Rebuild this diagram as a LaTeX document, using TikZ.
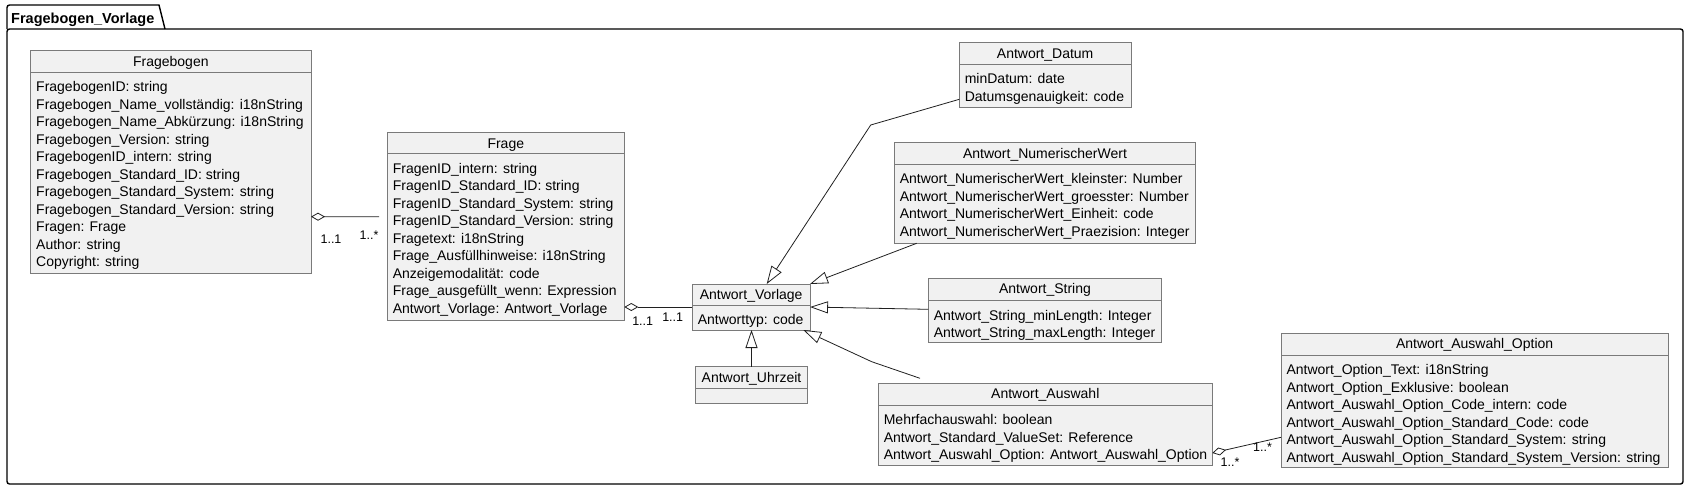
\documentclass[tikz,border=0pt]{standalone}
\usepackage{fontspec}
\setmainfont{Liberation Sans}
\usetikzlibrary{arrows.meta}
\definecolor{boxfill}{HTML}{F1F1F1}
\definecolor{boxgray}{HTML}{7A7A7A}
\definecolor{linecol}{HTML}{202020}
\tikzset{
  classbox/.style={draw=boxgray, fill=boxfill, line width=0.7pt, inner sep=0pt, outer sep=0pt},
  sepline/.style={draw=boxgray, line width=0.7pt},
  ctitle/.style={font=\fontsize{14}{16}\selectfont, inner sep=0pt, anchor=base},
  cattr/.style={font=\fontsize{14}{16}\selectfont, inner sep=0pt, anchor=base west},
  conn/.style={draw=linecol, line width=0.8pt},
  ext/.style={conn, -{Triangle[open, length=18pt, width=12pt]}},
  aggr/.style={conn, {Diamond[open, length=14pt, width=8pt]}-},
  mult/.style={font=\fontsize{12.5}{14}\selectfont, inner sep=0pt},
  pkgframe/.style={draw=black, line width=1.4pt, rounded corners=2.5pt, inner sep=0pt, outer sep=0pt},
  pkgline/.style={draw=black, line width=1.4pt},
  pkgtitle/.style={font=\fontsize{14.5}{16}\selectfont\bfseries, inner sep=0pt, anchor=base west},
}
% #1 name, #2 left, #3 top, #4 right, #5 separator, #6 bottom, #7 title
\newcommand\umlbox[7]{%
  \node[classbox, anchor=north west, minimum width={#4pt-#2pt}, minimum height={#6pt-#3pt}] (#1) at (#2,#3) {};
  \draw[sepline] (#2,#5) -- (#4,#5);
  \node[ctitle] (#1-t) at ({(#2+#4)/2},{#3+15.5}) {#7};
}
% #1 name, #2 left, #3 separator, #4 list
\newcommand\umlattrs[4]{%
  \foreach \a [count=\i] in {#4} {
    \node[cattr] (#1-a\i) at ({#2+5.3},{#3+19.7+(\i-1)*17.5}) {\a};
  }
}
\begin{document}
\begin{tikzpicture}[x=1pt, y=-1pt]
\useasboundingbox (0,0) rectangle (1690,491);

% package
\node[pkgframe, anchor=north west, minimum width=1676pt, minimum height=455pt] (pkg) at (7,29) {};
\draw[pkgline] (pkg.north west) [rounded corners=2.5pt] -- (7,5) [sharp corners] -- (159,5) -- (165,29);
\node[pkgtitle] (pkgt) at (11,23.5) {Fragebogen\_Vorlage};

% classes
\umlbox{fb}{30.7}{50.7}{311}{72}{273}{Fragebogen}
\umlattrs{fb}{30.7}{72}{FragebogenID: string,
 Fragebogen\_Name\_vollständig: i18nString,
 Fragebogen\_Name\_Abkürzung: i18nString,
 Fragebogen\_Version: string,
 FragebogenID\_intern: string,
 Fragebogen\_Standard\_ID: string,
 Fragebogen\_Standard\_System: string,
 Fragebogen\_Standard\_Version: string,
 Fragen: Frage,
 Author: string,
 Copyright: string}

\umlbox{fr}{387.3}{132.7}{624.3}{153.3}{320}{Frage}
\umlattrs{fr}{387.3}{153.3}{FragenID\_intern: string,
 FragenID\_Standard\_ID: string,
 FragenID\_Standard\_System: string,
 FragenID\_Standard\_Version: string,
 Fragetext: i18nString,
 Frage\_Ausfüllhinweise: i18nString,
 Anzeigemodalität: code,
 Frage\_ausgefüllt\_wenn: Expression,
 Antwort\_Vorlage: Antwort\_Vorlage}

\umlbox{av}{692.3}{284}{810}{305}{330}{Antwort\_Vorlage}
\umlattrs{av}{692.3}{305}{Antworttyp: code}

\umlbox{au}{695.7}{366.7}{807.3}{388.3}{403.3}{Antwort\_Uhrzeit}

\umlbox{ad}{959.3}{42.7}{1131}{64}{107.3}{Antwort\_Datum}
\umlattrs{ad}{959.3}{64}{minDatum: date,
 Datumsgenauigkeit: code}

\umlbox{an}{894.3}{142.7}{1195.7}{164}{243.3}{Antwort\_NumerischerWert}
\umlattrs{an}{894.3}{164}{Antwort\_NumerischerWert\_kleinster: Number,
 Antwort\_NumerischerWert\_groesster: Number,
 Antwort\_NumerischerWert\_Einheit: code,
 Antwort\_NumerischerWert\_Praezision: Integer}

\umlbox{as}{928.3}{278.3}{1161.7}{300.7}{342.7}{Antwort\_String}
\umlattrs{as}{928.3}{300.7}{Antwort\_String\_minLength: Integer,
 Antwort\_String\_maxLength: Integer}

\umlbox{aw}{878.3}{383.3}{1212.3}{405}{465}{Antwort\_Auswahl}
\umlattrs{aw}{878.3}{405}{Mehrfachauswahl: boolean,
 Antwort\_Standard\_ValueSet: Reference,
 Antwort\_Auswahl\_Option: Antwort\_Auswahl\_Option}

\umlbox{ao}{1281}{333.3}{1668.3}{355}{467.7}{Antwort\_Auswahl\_Option}
\umlattrs{ao}{1281}{355}{Antwort\_Option\_Text: i18nString,
 Antwort\_Option\_Exklusive: boolean,
 Antwort\_Auswahl\_Option\_Code\_intern: code,
 Antwort\_Auswahl\_Option\_Standard\_Code: code,
 Antwort\_Auswahl\_Option\_Standard\_System: string,
 Antwort\_Auswahl\_Option\_Standard\_System\_Version: string}

% bend points
\coordinate (bendD) at (870.7,125);
\coordinate (bendW) at (871.7,361.7);

% connectors
\draw[aggr] ([yshift=56.3pt]fb.south east) -- ([shift={(-8.3pt,-84pt)}]fr.north west);
\node[mult] (m1) at (331,239) {1..1};
\node[mult] (m2) at (369,235) {1..*};

\draw[aggr] (fr.east |- av.west) -- (av.west);
\node[mult] (m3) at (642.7,320.7) {1..1};
\node[mult] (m4) at (672.7,316.7) {1..1};

\draw[ext] (au.north) -- (au.north |- av.south);
\draw[ext] ([yshift=8pt]ad.south west) -- (bendD) -- ([xshift=74.4pt]av.north west);
\draw[ext] ([xshift=22.4pt]an.south west) -- (av.north east);
\draw[ext] ([yshift=-31pt]as.north west) -- (av.east);
\draw[ext] ([shift={(41.7pt,5pt)}]aw.north west) -- (bendW) -- ([xshift=-6.7pt]av.south east);

\draw[aggr] ([yshift=12pt]aw.south east) -- ([yshift=30.4pt]ao.south west);
\node[mult] (m5) at (1230,461.7) {1..*};
\node[mult] (m6) at (1262.5,446.7) {1..*};
\end{tikzpicture}
\end{document}
